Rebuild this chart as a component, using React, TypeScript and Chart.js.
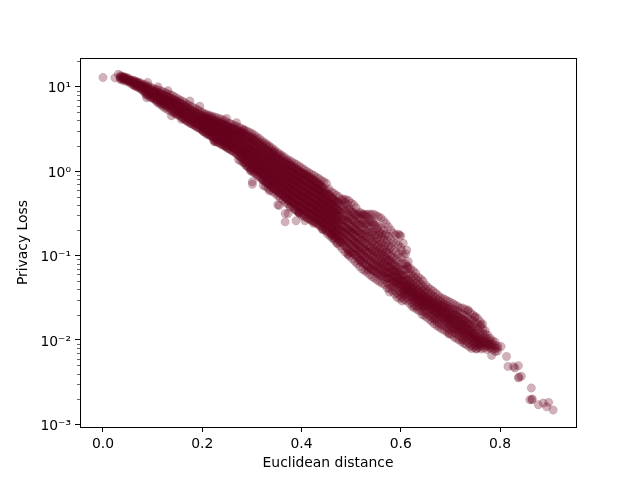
import { useEffect, useRef } from "react";
import { Chart, registerables } from "chart.js";

Chart.register(...registerables);

const xTickValues = [0, 0.2, 0.4, 0.6, 0.8];
const yTickValues = [0.001, 0.01, 0.1, 1, 10];
const yTickLabels = ["10⁻³", "10⁻²", "10⁻¹", "10⁰", "10¹"];
const yMinorTicks = [
  0.002, 0.003, 0.004, 0.005, 0.006, 0.007, 0.008, 0.009,
  0.02, 0.03, 0.04, 0.05, 0.06, 0.07, 0.08, 0.09,
  0.2, 0.3, 0.4, 0.5, 0.6, 0.7, 0.8, 0.9,
  2, 3, 4, 5, 6, 7, 8, 9, 20,
];

const edgeDistance = [
  0, 0.024, 0.031, 0.088, 0.138, 0.158, 0.224, 0.247, 0.297, 0.301, 0.301, 0.335, 0.352, 0.269, 0.249, 0.195, 0.175, 0.131,
  0.111, 0.09, 0.283, 0.343, 0.298, 0.323, 0.367, 0.373, 0.355, 0.377, 0.367, 0.373, 0.395, 0.395, 0.367, 0.389, 0.407,
  0.424, 0.442, 0.462, 0.477, 0.494, 0.518, 0.534, 0.612, 0.602, 0.598, 0.615, 0.612, 0.605, 0.645, 0.697, 0.724, 0.752,
  0.736, 0.749, 0.762, 0.669, 0.783, 0.802, 0.813, 0.816, 0.827, 0.837, 0.83, 0.838, 0.843, 0.837, 0.863, 0.86, 0.865,
  0.864, 0.877, 0.887, 0.898, 0.894, 0.907,
];
const edgeLoss = [
  12.9, 12.8, 14.1, 7.43, 4.55, 4.12, 2.24, 1.96, 1.02, 0.75, 0.7, 0.585, 0.4, 3.77, 4.23, 5.9, 6.8, 9.0,
  10, 11.3, 3.08, 1.71, 1.01, 0.68, 0.484, 0.446, 0.393, 0.372, 0.316, 0.316, 0.33, 0.32, 0.251, 0.259, 0.259,
  0.241, 0.205, 0.175, 0.146, 0.102, 0.085, 0.0676, 0.1165, 0.114, 0.175, 0.074, 0.075, 0.0364, 0.0249, 0.01175, 0.01, 0.0078,
  0.0227, 0.0186, 0.0151, 0.0177, 0.00656, 0.00838, 0.00638, 0.00486, 0.00486, 0.00495, 0.00465, 0.00364, 0.00371, 0.00355, 0.0027, 0.00196, 0.002,
  0.00196, 0.00171, 0.00179, 0.00182, 0.00161, 0.00148,
];

const bandDistance = [
  0.035, 0.04, 0.045, 0.05, 0.055, 0.06, 0.065, 0.07, 0.075, 0.08,
  0.085, 0.09, 0.095, 0.1, 0.105, 0.11, 0.115, 0.12, 0.125, 0.13,
  0.135, 0.14, 0.145, 0.15, 0.155, 0.16, 0.165, 0.17, 0.175, 0.18,
  0.185, 0.19, 0.195, 0.2, 0.205, 0.21, 0.215, 0.22, 0.225, 0.23,
  0.235, 0.24, 0.245, 0.25, 0.255, 0.26, 0.265, 0.27, 0.275, 0.28,
  0.285, 0.29, 0.295, 0.3, 0.305, 0.31, 0.315, 0.32, 0.325, 0.33,
  0.335, 0.34, 0.345, 0.35, 0.355, 0.36, 0.365, 0.37, 0.375, 0.38,
  0.385, 0.39, 0.395, 0.4, 0.405, 0.41, 0.415, 0.42, 0.425, 0.43,
  0.435, 0.44, 0.445, 0.45, 0.455, 0.46, 0.465, 0.47, 0.475, 0.48,
  0.485, 0.49, 0.495, 0.5, 0.505, 0.51, 0.515, 0.52, 0.525, 0.53,
  0.535, 0.54, 0.545, 0.55, 0.555, 0.56, 0.565, 0.57, 0.575, 0.58,
  0.585, 0.59, 0.595, 0.6, 0.605, 0.61, 0.615, 0.62, 0.625, 0.63,
  0.635, 0.64, 0.645, 0.65, 0.655, 0.66, 0.665, 0.67, 0.675, 0.68,
  0.685, 0.69, 0.695, 0.7, 0.705, 0.71, 0.715, 0.72, 0.725, 0.73,
  0.735, 0.74, 0.745, 0.75, 0.755, 0.76, 0.765, 0.77, 0.775, 0.78,
  0.785, 0.79, 0.795,
];
const bandLoss = [
  [13.6, 13.2, 12.9, 12.6, 12.2], [13.4, 13, 12.7, 12.4, 12], [13, 12.7, 12.4, 12.1, 11.7], [12.8, 12.2, 11.9, 11.5], [12.2, 11.8, 11.4, 11],
  [12, 11.5, 11.1, 10.6], [11.7, 11.2, 10.8, 10.3], [11.5, 11, 10.5, 10], [11.2, 10.6, 10.1, 9.6], [10.8, 10.2, 9.7, 9.1],
  [10.6, 10, 9.5, 9, 8.4], [10.3, 9.7, 9.2, 8.7, 8.1], [10, 9.4, 8.8, 8.3, 7.8], [9.7, 9.1, 8.5, 8, 7.4], [9.4, 8.8, 8.2, 7.7, 7.1],
  [9.3, 8.6, 8, 7.5, 7, 6.5], [9, 8.3, 7.7, 7.2, 6.7, 6.2], [8.8, 8.1, 7.5, 6.9, 6.4, 5.9], [8.6, 7.9, 7.2, 6.7, 6.2, 5.6], [8.3, 7.6, 7, 6.5, 6, 5.4],
  [8.1, 7.4, 6.8, 6.3, 5.8, 5.2], [7.9, 7.2, 6.6, 6.1, 5.6, 5.1], [7.6, 6.9, 6.3, 5.8, 5.4, 4.9], [7.3, 6.7, 6.1, 5.6, 5.2, 4.8], [7, 6.4, 5.8, 5.3, 4.9, 4.6],
  [6.8, 6.2, 5.6, 5.1, 4.7, 4.3], [6.5, 5.9, 5.3, 4.9, 4.5, 4.1], [6.2, 5.6, 5.1, 4.7, 4.3, 3.9], [6, 5.4, 4.9, 4.5, 4.1, 3.7], [5.8, 5.2, 4.7, 4.3, 3.9, 3.6],
  [5.6, 5, 4.5, 4.1, 3.8, 3.5], [5.4, 4.8, 4.3, 3.9, 3.6, 3.3], [5.2, 4.7, 4.2, 3.8, 3.5, 3.2], [5, 4.5, 4, 3.7, 3.4, 3.1], [4.8, 4.3, 3.9, 3.5, 3.2, 2.9],
  [4.7, 4.2, 3.8, 3.4, 3.1, 2.8], [4.6, 4.1, 3.7, 3.3, 3, 2.7], [4.5, 4, 3.6, 3.2, 2.9, 2.6], [4.4, 3.9, 3.5, 3.1, 2.8, 2.5, 2.3], [4.3, 3.8, 3.4, 3, 2.7, 2.4, 2.2],
  [4.2, 3.7, 3.3, 3, 2.7, 2.4, 2.15], [4.1, 3.6, 3.2, 2.9, 2.6, 2.3, 2.05], [4, 3.5, 3.1, 2.8, 2.5, 2.2, 2], [3.8, 3.4, 3, 2.7, 2.4, 2.15, 1.9], [3.7, 3.3, 2.9, 2.6, 2.3, 2.05, 1.85],
  [3.6, 3.2, 2.8, 2.5, 2.2, 2, 1.75], [3.5, 3.1, 2.7, 2.4, 2.1, 1.9, 1.7], [3.4, 3, 2.6, 2.3, 2, 1.8, 1.6], [3.3, 2.9, 2.5, 2.2, 1.95, 1.7, 1.5], [3.2, 2.8, 2.4, 2.1, 1.85, 1.65, 1.45],
  [3.1, 2.7, 2.35, 2.05, 1.8, 1.6, 1.4, 1.25], [3, 2.6, 2.25, 1.95, 1.7, 1.5, 1.3, 1.15], [2.9, 2.5, 2.15, 1.85, 1.6, 1.4, 1.25, 1.1], [2.8, 2.4, 2.05, 1.75, 1.55, 1.35, 1.2, 1.05], [2.7, 2.3, 1.95, 1.7, 1.5, 1.3, 1.1, 0.98],
  [2.55, 2.2, 1.85, 1.6, 1.4, 1.25, 1.05, 0.92], [2.45, 2.05, 1.75, 1.5, 1.3, 1.15, 1, 0.88], [2.3, 1.95, 1.65, 1.45, 1.25, 1.1, 0.95, 0.82], [2.2, 1.85, 1.6, 1.35, 1.2, 1.03, 0.9, 0.78], [2.1, 1.75, 1.5, 1.3, 1.12, 0.98, 0.85, 0.74],
  [2, 1.7, 1.45, 1.25, 1.07, 0.93, 0.82, 0.7], [1.9, 1.6, 1.38, 1.2, 1.02, 0.88, 0.77, 0.66], [1.8, 1.5, 1.3, 1.12, 0.97, 0.84, 0.72, 0.62], [1.7, 1.45, 1.25, 1.07, 0.92, 0.8, 0.69, 0.58], [1.62, 1.38, 1.18, 1.02, 0.88, 0.76, 0.65, 0.55],
  [1.55, 1.32, 1.12, 0.96, 0.83, 0.72, 0.62, 0.52], [1.48, 1.25, 1.07, 0.92, 0.8, 0.69, 0.59, 0.5], [1.4, 1.2, 1.02, 0.88, 0.76, 0.65, 0.56, 0.47], [1.35, 1.15, 0.98, 0.85, 0.73, 0.62, 0.53, 0.45], [1.3, 1.1, 0.93, 0.8, 0.69, 0.59, 0.5, 0.43],
  [1.25, 1.05, 0.9, 0.77, 0.66, 0.56, 0.48, 0.41, 0.36], [1.2, 1, 0.86, 0.74, 0.63, 0.54, 0.46, 0.39, 0.34], [1.15, 0.97, 0.82, 0.7, 0.6, 0.51, 0.44, 0.37, 0.32], [1.1, 0.93, 0.8, 0.67, 0.57, 0.49, 0.42, 0.36, 0.3], [1.05, 0.9, 0.76, 0.64, 0.55, 0.47, 0.4, 0.34, 0.29],
  [1, 0.86, 0.73, 0.62, 0.53, 0.45, 0.39, 0.33, 0.28], [0.96, 0.82, 0.7, 0.6, 0.51, 0.43, 0.37, 0.31, 0.27], [0.92, 0.79, 0.67, 0.57, 0.49, 0.42, 0.36, 0.3, 0.26], [0.89, 0.75, 0.64, 0.55, 0.47, 0.4, 0.34, 0.29, 0.25], [0.85, 0.72, 0.62, 0.53, 0.45, 0.38, 0.33, 0.28, 0.24],
  [0.82, 0.7, 0.59, 0.5, 0.43, 0.37, 0.31, 0.26, 0.23], [0.78, 0.67, 0.57, 0.48, 0.41, 0.35, 0.3, 0.25, 0.22], [0.75, 0.64, 0.54, 0.46, 0.39, 0.34, 0.29, 0.24, 0.21], [0.72, 0.6, 0.51, 0.44, 0.37, 0.32, 0.27, 0.23, 0.2], [0.62, 0.53, 0.42, 0.36, 0.3, 0.26, 0.22, 0.19],
  [0.57, 0.49, 0.4, 0.34, 0.29, 0.25, 0.21, 0.18], [0.55, 0.46, 0.38, 0.33, 0.28, 0.24, 0.2, 0.17], [0.52, 0.44, 0.36, 0.31, 0.26, 0.22, 0.19, 0.16], [0.5, 0.42, 0.34, 0.29, 0.25, 0.21, 0.18, 0.155], [0.47, 0.39, 0.32, 0.27, 0.23, 0.2, 0.17, 0.145],
  [0.47, 0.38, 0.3, 0.26, 0.22, 0.19, 0.16, 0.135], [0.46, 0.36, 0.29, 0.25, 0.21, 0.18, 0.15, 0.125], [0.45, 0.35, 0.28, 0.24, 0.2, 0.17, 0.14, 0.115], [0.42, 0.33, 0.27, 0.22, 0.19, 0.16, 0.135, 0.11], [0.4, 0.32, 0.26, 0.21, 0.18, 0.15, 0.125, 0.105],
  [0.37, 0.3, 0.24, 0.2, 0.17, 0.14, 0.12, 0.1], [0.33, 0.28, 0.23, 0.19, 0.16, 0.135, 0.115, 0.095], [0.32, 0.27, 0.22, 0.18, 0.15, 0.125, 0.105, 0.088], [0.31, 0.26, 0.21, 0.175, 0.145, 0.12, 0.1, 0.083], [0.31, 0.25, 0.2, 0.165, 0.14, 0.115, 0.095, 0.078],
  [0.31, 0.25, 0.2, 0.16, 0.13, 0.11, 0.09, 0.074], [0.31, 0.25, 0.19, 0.155, 0.125, 0.105, 0.085, 0.07], [0.31, 0.24, 0.19, 0.15, 0.12, 0.1, 0.08, 0.067], [0.3, 0.23, 0.18, 0.145, 0.115, 0.095, 0.078, 0.064], [0.29, 0.22, 0.175, 0.135, 0.11, 0.09, 0.075, 0.062],
  [0.28, 0.21, 0.165, 0.125, 0.105, 0.085, 0.072, 0.06], [0.26, 0.2, 0.155, 0.12, 0.1, 0.082, 0.069, 0.058], [0.24, 0.18, 0.14, 0.11, 0.092, 0.078, 0.066, 0.056], [0.22, 0.17, 0.13, 0.105, 0.087, 0.074, 0.063, 0.054], [0.2, 0.155, 0.125, 0.1, 0.083, 0.07, 0.06, 0.052],
  [0.185, 0.145, 0.115, 0.095, 0.08, 0.067, 0.058, 0.05], [0.175, 0.14, 0.11, 0.09, 0.075, 0.064, 0.055, 0.048], [0.18, 0.135, 0.105, 0.085, 0.072, 0.062, 0.053, 0.046], [0.17, 0.125, 0.095, 0.08, 0.068, 0.059, 0.051, 0.044], [0.14, 0.1, 0.08, 0.068, 0.058, 0.05, 0.044, 0.039],
  [0.105, 0.08, 0.068, 0.058, 0.05, 0.044, 0.039, 0.036], [0.085, 0.07, 0.06, 0.052, 0.046, 0.041, 0.037], [0.07, 0.06, 0.053, 0.047, 0.042, 0.038, 0.034], [0.066, 0.057, 0.05, 0.045, 0.04, 0.036, 0.032], [0.062, 0.054, 0.047, 0.042, 0.037, 0.033, 0.03],
  [0.056, 0.05, 0.044, 0.039, 0.035, 0.031, 0.029], [0.053, 0.046, 0.041, 0.037, 0.033, 0.03, 0.027], [0.05, 0.043, 0.038, 0.034, 0.031, 0.028, 0.026], [0.045, 0.04, 0.036, 0.032, 0.029, 0.026], [0.042, 0.037, 0.033, 0.03, 0.027, 0.025],
  [0.04, 0.035, 0.031, 0.028, 0.025, 0.023], [0.038, 0.033, 0.03, 0.027, 0.024, 0.022], [0.036, 0.032, 0.028, 0.025, 0.023, 0.021], [0.034, 0.03, 0.027, 0.024, 0.022, 0.02], [0.032, 0.029, 0.026, 0.023, 0.021, 0.019],
  [0.031, 0.027, 0.025, 0.022, 0.02, 0.018], [0.03, 0.026, 0.024, 0.021, 0.019, 0.017], [0.029, 0.025, 0.023, 0.02, 0.018, 0.016], [0.028, 0.024, 0.021, 0.019, 0.017, 0.015], [0.027, 0.023, 0.02, 0.018, 0.016, 0.014],
  [0.026, 0.023, 0.02, 0.0175, 0.0155, 0.0135], [0.025, 0.022, 0.019, 0.017, 0.015, 0.0132], [0.024, 0.021, 0.018, 0.016, 0.0145, 0.0128], [0.024, 0.02, 0.0175, 0.0155, 0.0137, 0.0122], [0.023, 0.0195, 0.017, 0.015, 0.0132, 0.0117],
  [0.022, 0.0185, 0.016, 0.0142, 0.0126, 0.0112], [0.021, 0.0175, 0.0155, 0.0135, 0.012, 0.0107], [0.02, 0.017, 0.0148, 0.013, 0.0115, 0.0103], [0.019, 0.016, 0.0142, 0.0125, 0.011, 0.0098], [0.018, 0.0155, 0.0135, 0.012, 0.0105, 0.0093],
  [0.0165, 0.0145, 0.0125, 0.0112, 0.0099, 0.0087], [0.0155, 0.0135, 0.0118, 0.0105, 0.0094], [0.013, 0.0118, 0.0106, 0.0096], [0.0115, 0.0104, 0.0095, 0.0087], [0.0105, 0.0097, 0.0089, 0.0082],
  [0.0098, 0.009, 0.0083, 0.0077], [0.0095, 0.0086, 0.0079, 0.0073], [0.0085, 0.008, 0.0074], [0.0082, 0.0076],
];

const coreDistance = [
  0.0412, 0.0487, 0.0561, 0.0625, 0.0668, 0.0722, 0.0776, 0.0823, 0.0871, 0.0926,
  0.0974, 0.1028, 0.1073, 0.1129, 0.1176, 0.1224, 0.1277, 0.1326, 0.1371, 0.1429,
  0.1478, 0.1522, 0.1576, 0.1627, 0.1673, 0.1721, 0.1779, 0.1828, 0.1872, 0.1926,
  0.1973, 0.2024, 0.2078, 0.2129, 0.2172, 0.2228, 0.2271, 0.2326, 0.2379, 0.2423,
  0.2477, 0.2526, 0.2574, 0.2623, 0.2678, 0.2729, 0.2771, 0.2827, 0.2876, 0.2921,
  0.2978, 0.3026, 0.3073, 0.3124, 0.3177, 0.3228, 0.3272, 0.3326, 0.3374, 0.3423,
  0.3478, 0.3527, 0.3572, 0.3629, 0.3676, 0.3722, 0.3779, 0.3824, 0.3873, 0.3928,
  0.3971, 0.4027, 0.4076, 0.4123, 0.4178, 0.4226, 0.4274, 0.4329, 0.4372, 0.4425,
  0.4477, 0.4523, 0.4579, 0.4626, 0.4673, 0.4728, 0.4774, 0.4821, 0.4876, 0.4929,
  0.4972, 0.5026, 0.5078, 0.5124, 0.5173, 0.5227, 0.5276, 0.5322, 0.5379, 0.5428,
  0.5473, 0.5526, 0.5574, 0.5623, 0.5678, 0.5729, 0.5771, 0.5827, 0.5876, 0.5923,
  0.5978, 0.6026, 0.6073, 0.6124, 0.6177, 0.6228, 0.6272, 0.6326, 0.6374, 0.6428,
  0.6476, 0.6522, 0.6579, 0.6626, 0.6673, 0.6728, 0.6774, 0.6821, 0.6876, 0.6929,
  0.6972, 0.7026, 0.7078, 0.7124, 0.7173, 0.7227, 0.7276, 0.7322, 0.7379, 0.7428,
  0.7473, 0.7526, 0.7574, 0.7623, 0.7678, 0.7729, 0.7781,
];
const coreLoss = [
  [13.1, 12.6], [12.7, 12.1], [12, 11.4], [11.9, 11, 10.4], [11.4, 10.6, 10], [11.1, 10.3, 9.7], [10.5, 9.9, 9.3], [10.2, 9.5, 8.8], [9.9, 9.2, 8.6, 8], [9.5, 8.9, 8.2, 7.7],
  [9.2, 8.5, 8, 7.4], [8.9, 8.3, 7.6, 7.2], [8.7, 8, 7.3, 6.8], [8.4, 7.8, 7.1, 6.6], [8.2, 7.4, 6.9, 6.3], [7.9, 7.2, 6.6, 6.1], [7.7, 7, 6.4, 5.9], [7.5, 6.7, 6.2, 5.7], [7.2, 6.6, 6, 5.5], [7, 6.4, 5.9, 5.3, 4.9],
  [6.8, 6.1, 5.7, 5.1, 4.7], [6.6, 5.9, 5.4, 5, 4.6], [6.3, 5.7, 5.2, 4.8, 4.4], [6, 5.4, 5, 4.6, 4.2], [5.8, 5.2, 4.8, 4.4, 4], [5.5, 5, 4.6, 4.2, 3.85], [5.3, 4.8, 4.4, 4, 3.7], [5.1, 4.6, 4.2, 3.85, 3.55], [4.9, 4.4, 4.1, 3.7, 3.4], [4.7, 4.3, 3.95, 3.6, 3.3],
  [4.6, 4.15, 3.75, 3.45, 3.15], [4.4, 3.95, 3.65, 3.3, 3], [4.25, 3.85, 3.5, 3.15, 2.9], [4.15, 3.75, 3.4, 3.05, 2.8], [4.05, 3.65, 3.25, 2.95, 2.65], [3.95, 3.55, 3.15, 2.85, 2.55, 2.35], [3.85, 3.45, 3.05, 2.8, 2.5, 2.25], [3.75, 3.35, 3, 2.7, 2.45, 2.2], [3.65, 3.25, 2.95, 2.6, 2.35, 2.1], [3.55, 3.15, 2.85, 2.55, 2.25, 2.05],
  [3.45, 3.05, 2.75, 2.45, 2.2, 1.95], [3.35, 2.95, 2.65, 2.35, 2.1, 1.85], [3.25, 2.85, 2.55, 2.25, 2.02, 1.78], [3.15, 2.75, 2.45, 2.15, 1.92, 1.72], [3.05, 2.65, 2.35, 2.05, 1.82, 1.62], [2.95, 2.55, 2.25, 1.98, 1.75, 1.55, 1.38], [2.85, 2.45, 2.15, 1.88, 1.68, 1.48, 1.32], [2.75, 2.35, 2.05, 1.78, 1.58, 1.42, 1.27], [2.65, 2.25, 1.92, 1.68, 1.52, 1.35, 1.18], [2.55, 2.15, 1.82, 1.62, 1.45, 1.28, 1.12],
  [2.45, 2.08, 1.78, 1.55, 1.37, 1.22, 1.07], [2.35, 1.98, 1.68, 1.47, 1.27, 1.12, 0.97], [2.25, 1.88, 1.6, 1.39, 1.22, 1.07, 0.93], [2.15, 1.78, 1.52, 1.32, 1.16, 1.01, 0.87], [2.05, 1.68, 1.43, 1.26, 1.1, 0.96, 0.83], [1.95, 1.62, 1.37, 1.19, 1.04, 0.91, 0.79], [1.85, 1.55, 1.32, 1.14, 0.99, 0.86, 0.75, 0.66], [1.75, 1.47, 1.26, 1.09, 0.95, 0.82, 0.71, 0.63], [1.67, 1.41, 1.2, 1.04, 0.9, 0.78, 0.68, 0.6], [1.59, 1.34, 1.14, 0.99, 0.86, 0.74, 0.64, 0.57],
  [1.5, 1.28, 1.09, 0.94, 0.81, 0.71, 0.61, 0.54], [1.44, 1.22, 1.04, 0.9, 0.78, 0.67, 0.58, 0.51], [1.37, 1.16, 0.99, 0.86, 0.74, 0.64, 0.55, 0.48], [1.32, 1.12, 0.95, 0.82, 0.71, 0.61, 0.52, 0.46], [1.27, 1.07, 0.91, 0.78, 0.67, 0.58, 0.5, 0.43], [1.22, 1.02, 0.88, 0.75, 0.65, 0.55, 0.47, 0.41], [1.18, 0.99, 0.84, 0.72, 0.62, 0.53, 0.45, 0.39], [1.13, 0.95, 0.81, 0.69, 0.59, 0.5, 0.43, 0.38], [1.08, 0.91, 0.78, 0.66, 0.56, 0.48, 0.41, 0.35], [1.03, 0.88, 0.75, 0.63, 0.54, 0.46, 0.39, 0.33],
  [0.98, 0.84, 0.72, 0.61, 0.52, 0.44, 0.38, 0.32], [0.94, 0.8, 0.69, 0.58, 0.5, 0.42, 0.36, 0.31], [0.91, 0.77, 0.66, 0.56, 0.48, 0.41, 0.35, 0.3], [0.87, 0.74, 0.63, 0.54, 0.46, 0.39, 0.33, 0.28], [0.84, 0.71, 0.6, 0.52, 0.44, 0.37, 0.32, 0.27], [0.8, 0.68, 0.58, 0.49, 0.42, 0.36, 0.31, 0.26], [0.76, 0.65, 0.55, 0.47, 0.4, 0.345, 0.29, 0.25], [0.7, 0.62, 0.53, 0.45, 0.38, 0.33, 0.28, 0.24], [0.66, 0.57, 0.49, 0.43, 0.365, 0.31, 0.265, 0.225], [0.6, 0.52, 0.44, 0.38, 0.325, 0.28, 0.24, 0.205],
  [0.56, 0.47, 0.41, 0.35, 0.305, 0.265, 0.225, 0.195], [0.53, 0.45, 0.39, 0.33, 0.285, 0.245, 0.21, 0.18], [0.51, 0.43, 0.37, 0.31, 0.27, 0.235, 0.195, 0.17], [0.48, 0.41, 0.35, 0.3, 0.255, 0.215, 0.185, 0.16], [0.45, 0.37, 0.33, 0.275, 0.235, 0.205, 0.175, 0.15], [0.43, 0.34, 0.31, 0.265, 0.225, 0.195, 0.165, 0.14], [0.41, 0.33, 0.29, 0.245, 0.205, 0.175, 0.155, 0.13], [0.45, 0.35, 0.27, 0.23, 0.195, 0.165, 0.145, 0.12], [0.43, 0.34, 0.265, 0.215, 0.185, 0.155, 0.13, 0.11], [0.4, 0.31, 0.25, 0.205, 0.175, 0.145, 0.12, 0.105],
  [0.36, 0.29, 0.23, 0.195, 0.165, 0.135, 0.11, 0.098], [0.33, 0.265, 0.215, 0.185, 0.155, 0.13, 0.108, 0.091], [0.31, 0.255, 0.205, 0.17, 0.145, 0.122, 0.102, 0.085], [0.31, 0.245, 0.195, 0.16, 0.135, 0.112, 0.095, 0.08], [0.3, 0.235, 0.19, 0.15, 0.125, 0.106, 0.088, 0.074], [0.305, 0.24, 0.185, 0.15, 0.118, 0.098, 0.082, 0.069], [0.3, 0.235, 0.18, 0.14, 0.115, 0.094, 0.079, 0.066], [0.29, 0.225, 0.17, 0.13, 0.108, 0.09, 0.074, 0.063], [0.27, 0.21, 0.16, 0.125, 0.1, 0.086, 0.071, 0.059], [0.25, 0.19, 0.145, 0.115, 0.095, 0.08, 0.067, 0.056],
  [0.23, 0.175, 0.135, 0.11, 0.09, 0.075, 0.065, 0.054], [0.21, 0.16, 0.13, 0.105, 0.085, 0.072, 0.061, 0.051], [0.19, 0.15, 0.12, 0.098, 0.082, 0.068, 0.058, 0.049], [0.18, 0.14, 0.11, 0.092, 0.077, 0.065, 0.056, 0.047], [0.175, 0.13, 0.1, 0.087, 0.073, 0.061, 0.052, 0.045], [0.15, 0.11, 0.088, 0.072, 0.062, 0.054, 0.047, 0.041], [0.12, 0.088, 0.074, 0.062, 0.053, 0.046, 0.041, 0.037], [0.092, 0.075, 0.064, 0.055, 0.048, 0.043, 0.038], [0.076, 0.065, 0.056, 0.049, 0.044, 0.039, 0.035], [0.068, 0.059, 0.051, 0.046, 0.041, 0.036, 0.032],
  [0.064, 0.055, 0.048, 0.043, 0.038, 0.034, 0.031], [0.058, 0.051, 0.046, 0.041, 0.036, 0.032, 0.029], [0.054, 0.047, 0.042, 0.038, 0.034, 0.03], [0.051, 0.044, 0.039, 0.035, 0.032, 0.029], [0.047, 0.041, 0.037, 0.033, 0.03, 0.027], [0.043, 0.038, 0.034, 0.031, 0.028, 0.025], [0.041, 0.036, 0.032, 0.029, 0.026, 0.024], [0.039, 0.034, 0.031, 0.028, 0.025, 0.023], [0.037, 0.032, 0.029, 0.026, 0.024, 0.022], [0.035, 0.031, 0.028, 0.025, 0.022, 0.02],
  [0.033, 0.03, 0.026, 0.024, 0.0215, 0.0195], [0.032, 0.028, 0.025, 0.0225, 0.0205, 0.0185], [0.03, 0.027, 0.024, 0.0215, 0.0195, 0.0175], [0.029, 0.026, 0.023, 0.0205, 0.0185, 0.0165], [0.028, 0.025, 0.022, 0.0195, 0.0175, 0.0155], [0.027, 0.024, 0.021, 0.0185, 0.0165, 0.0147], [0.026, 0.023, 0.0205, 0.0178, 0.0158, 0.0142], [0.0255, 0.022, 0.0195, 0.0172, 0.0152, 0.0135], [0.0245, 0.0212, 0.0185, 0.0165, 0.0146, 0.013], [0.0235, 0.0202, 0.018, 0.0158, 0.014, 0.0125],
  [0.0225, 0.0192, 0.0172, 0.0152, 0.0135, 0.012], [0.0215, 0.0185, 0.0164, 0.0146, 0.0129, 0.0115], [0.0205, 0.0178, 0.0156, 0.0138, 0.0122, 0.0108], [0.0198, 0.017, 0.0148, 0.0132, 0.0118, 0.0104], [0.0188, 0.0162, 0.0142, 0.0126, 0.0112, 0.01], [0.018, 0.0154, 0.0135, 0.012, 0.0107, 0.0095], [0.017, 0.0146, 0.0128, 0.0114, 0.0102, 0.0091], [0.0162, 0.0139, 0.0122, 0.0108, 0.0097, 0.0088], [0.0152, 0.0131, 0.0114, 0.0101, 0.0091, 0.0083], [0.0135, 0.012, 0.0106, 0.0095, 0.0086, 0.0079],
  [0.012, 0.0108, 0.0097, 0.0089, 0.0082], [0.0112, 0.0102, 0.0093, 0.0085, 0.0079], [0.0106, 0.0096, 0.0088, 0.0081], [0.0101, 0.0092, 0.0084, 0.0078], [0.0096, 0.0088, 0.0081], [0.0092, 0.0084, 0.0077], [0.0088, 0.008],
];

const denseDistance = [
  0.2015, 0.2088, 0.2143, 0.2196, 0.2262, 0.2334, 0.2391, 0.2447, 0.2513, 0.2586,
  0.2641, 0.2693, 0.2757, 0.2812, 0.2864, 0.2935, 0.2992, 0.3047, 0.3096, 0.3161,
  0.3218, 0.3283, 0.3341, 0.3396, 0.3452, 0.3513, 0.3566, 0.3618, 0.3687, 0.3741,
  0.3793, 0.3856, 0.3912, 0.3964, 0.4018, 0.4085, 0.4137, 0.4194, 0.4252, 0.4313,
  0.4368, 0.4416, 0.4483, 0.4541, 0.4597, 0.4652, 0.4713,
];
const denseLoss = [
  [4.72, 4.22, 3.58, 3.22, 2.96], [4.52, 4.02, 3.42, 3.08, 2.74], [4.42, 3.88, 3.32, 2.98, 2.66], [4.28, 3.72, 3.22, 2.88, 2.57], [4.08, 3.62, 3.12, 2.78, 2.48],
  [3.92, 3.42, 2.98, 2.66, 2.36], [3.78, 3.32, 2.88, 2.54, 2.22], [3.62, 3.22, 2.78, 2.42, 2.14], [3.46, 3.08, 2.62, 2.32, 2.02], [3.32, 2.92, 2.52, 2.22, 1.95],
  [3.22, 2.82, 2.42, 2.12, 1.86], [3.12, 2.72, 2.32, 2.02, 1.78], [3.02, 2.62, 2.22, 1.92, 1.68], [2.92, 2.52, 2.12, 1.82, 1.62, 1.36], [2.82, 2.42, 2.02, 1.76, 1.56, 1.28],
  [2.66, 2.28, 1.88, 1.64, 1.42, 1.18], [2.56, 2.18, 1.82, 1.58, 1.36, 1.14], [2.46, 2.06, 1.72, 1.48, 1.28, 1.06], [2.36, 1.96, 1.66, 1.42, 1.22, 1.02], [2.22, 1.86, 1.56, 1.34, 1.14, 0.96],
  [2.12, 1.76, 1.48, 1.27, 1.08, 0.92, 0.78], [2.02, 1.66, 1.42, 1.19, 1.02, 0.87, 0.74], [1.92, 1.58, 1.34, 1.14, 0.96, 0.82, 0.7], [1.78, 1.48, 1.26, 1.08, 0.92, 0.78, 0.66], [1.68, 1.42, 1.2, 1.02, 0.87, 0.74, 0.63],
  [1.58, 1.34, 1.14, 0.97, 0.82, 0.7, 0.6], [1.52, 1.28, 1.08, 0.92, 0.78, 0.66, 0.56], [1.44, 1.22, 1.03, 0.88, 0.74, 0.63, 0.54], [1.33, 1.13, 0.96, 0.82, 0.7, 0.58, 0.5], [1.26, 1.06, 0.91, 0.78, 0.66, 0.56, 0.47],
  [1.18, 1, 0.86, 0.74, 0.63, 0.53, 0.44], [1.12, 0.95, 0.81, 0.69, 0.58, 0.49, 0.41], [1.06, 0.9, 0.77, 0.65, 0.55, 0.47, 0.39], [1, 0.86, 0.73, 0.61, 0.52, 0.44, 0.37], [0.96, 0.82, 0.69, 0.58, 0.5, 0.42, 0.35],
  [0.92, 0.78, 0.66, 0.55, 0.47, 0.4, 0.33], [0.87, 0.74, 0.62, 0.52, 0.45, 0.38, 0.32], [0.82, 0.7, 0.59, 0.5, 0.42, 0.36, 0.3], [0.79, 0.67, 0.56, 0.47, 0.4, 0.34, 0.28], [0.74, 0.63, 0.54, 0.45, 0.38, 0.32, 0.27],
  [0.7, 0.59, 0.51, 0.43, 0.36, 0.31, 0.26], [0.64, 0.55, 0.47, 0.4, 0.34, 0.29, 0.24], [0.56, 0.48, 0.41, 0.35, 0.3, 0.25, 0.21], [0.52, 0.44, 0.38, 0.32, 0.27, 0.23, 0.19], [0.48, 0.41, 0.35, 0.29, 0.25, 0.21, 0.18],
  [0.44, 0.37, 0.32, 0.27, 0.23, 0.19, 0.16], [0.41, 0.34, 0.28, 0.24, 0.2, 0.17, 0.14],
];

const scatterPoints = [
  ...edgeDistance.map((x, i) => ({ x, y: edgeLoss[i] })),
  ...bandDistance.flatMap((x, i) => bandLoss[i].map((y) => ({ x, y }))),
  ...coreDistance.flatMap((x, i) => coreLoss[i].map((y) => ({ x, y }))),
  ...denseDistance.flatMap((x, i) => denseLoss[i].map((y) => ({ x, y }))),
];

const FONT = "'DejaVu Sans'";

const framePlugin = {
  id: "frame",
  afterDatasetsDraw(chart: any) {
    const { ctx, chartArea: a, scales } = chart;
    ctx.save();
    ctx.strokeStyle = "#000";
    ctx.lineWidth = 1;
    ctx.strokeRect(a.left + 0.5, a.top + 0.5, a.right - a.left, a.bottom - a.top);
    ctx.lineWidth = 0.6;
    ctx.beginPath();
    for (const v of yMinorTicks) {
      const p = scales.y.getPixelForValue(v);
      if (p < a.top || p > a.bottom) continue;
      const yy = Math.round(p) + 0.5;
      ctx.moveTo(a.left, yy);
      ctx.lineTo(a.left - 3, yy);
    }
    ctx.stroke();
    ctx.restore();
  },
};

export default function App() {
  const ref = useRef<HTMLCanvasElement | null>(null);
  useEffect(() => {
    const chart = new Chart(ref.current as HTMLCanvasElement, {
      type: "scatter",
      data: {
        datasets: [
          {
            data: scatterPoints,
            backgroundColor: "rgba(103,0,31,0.3)",
            borderColor: "rgba(103,0,31,0.12)",
            borderWidth: 1,
            pointRadius: 4.2,
          },
        ],
      },
      plugins: [framePlugin],
      options: {
        animation: false,
        responsive: false,
        plugins: { legend: { display: false }, tooltip: { enabled: false } },
        layout: { padding: { left: 15, top: 58, right: 64, bottom: 8 } },
        scales: {
          x: {
            type: "linear",
            min: -0.0463,
            max: 0.953,
            afterBuildTicks: (s: any) => {
              s.ticks = xTickValues.map((value) => ({ value }));
            },
            afterFit: (s: any) => {
              s.height = 45;
            },
            grid: { drawOnChartArea: false, drawTicks: true, tickLength: 5, tickColor: "#000" },
            border: { color: "#000" },
            ticks: {
              color: "#000",
              padding: 4,
              maxRotation: 0,
              autoSkip: false,
              font: { family: FONT, size: 13.9 },
              callback: (v: any) => Number(v).toFixed(1),
            },
            title: {
              display: true,
              text: "Euclidean distance",
              color: "#000",
              font: { family: FONT, size: 13.9 },
              padding: { top: 2, bottom: 0 },
            },
          },
          y: {
            type: "logarithmic",
            min: 0.00093,
            max: 22,
            afterBuildTicks: (s: any) => {
              s.ticks = yTickValues.map((value) => ({ value }));
            },
            afterFit: (s: any) => {
              s.width = 65;
            },
            grid: { drawOnChartArea: false, drawTicks: true, tickLength: 5, tickColor: "#000" },
            border: { color: "#000" },
            ticks: {
              color: "#000",
              padding: 4,
              autoSkip: false,
              font: { family: FONT, size: 13.9, lineHeight: "4px" },
              callback: (v: any) => ["", yTickLabels[yTickValues.indexOf(Number(v))] ?? ""],
            },
            title: {
              display: true,
              text: "Privacy Loss",
              color: "#000",
              font: { family: FONT, size: 13.9 },
              padding: { top: 0, bottom: 0 },
            },
          },
        },
      },
    } as any);
    return () => chart.destroy();
  }, []);
  return (
    <div style={{ position: "absolute", left: 0, top: 0, width: 640, height: 480, background: "#fff" }}>
      <canvas ref={ref} width={640} height={480} style={{ display: "block" }} />
    </div>
  );
}
